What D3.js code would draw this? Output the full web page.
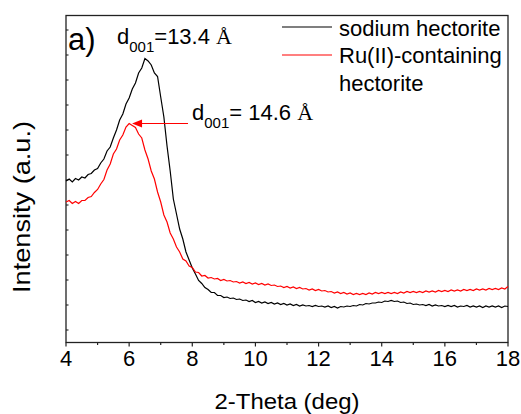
<!DOCTYPE html>
<html>
<head>
<meta charset="utf-8">
<script src="https://cdn.jsdelivr.net/npm/d3@7"></script>
<style>
  html, body { margin: 0; padding: 0; background: #fff; }
  svg { display: block; }
  text { font-family: "Liberation Sans", Arial, sans-serif; fill: #000; }
</style>
</head>
<body>
<svg id="chart" width="521" height="414"></svg>
<script>
// ---- data ----
const twoTheta = [
  4.0,4.1,4.2,4.3,4.4,4.5,4.6,4.7,4.8,4.9,5.0,5.1,5.2,5.3,5.4,5.5,5.6,5.7,5.8,5.9,
  6.0,6.1,6.2,6.3,6.4,6.5,6.6,6.7,6.8,6.9,7.0,7.1,7.2,7.3,7.4,7.5,7.6,7.7,7.8,7.9,
  8.0,8.1,8.2,8.3,8.4,8.5,8.6,8.7,8.8,8.9,9.0,9.1,9.2,9.3,9.4,9.5,9.6,9.7,9.8,9.9,
  10.0,10.1,10.2,10.3,10.4,10.5,10.6,10.7,10.8,10.9,11.0,11.1,11.2,11.3,11.4,11.5,11.6,11.7,11.8,11.9,
  12.0,12.1,12.2,12.3,12.4,12.5,12.6,12.7,12.8,12.9,13.0,13.1,13.2,13.3,13.4,13.5,13.6,13.7,13.8,13.9,
  14.0,14.1,14.2,14.3,14.4,14.5,14.6,14.7,14.8,14.9,15.0,15.1,15.2,15.3,15.4,15.5,15.6,15.7,15.8,15.9,
  16.0,16.1,16.2,16.3,16.4,16.5,16.6,16.7,16.8,16.9,17.0,17.1,17.2,17.3,17.4,17.5,17.6,17.7,17.8,17.9,
  18.0];
const naIntensity = [
  596,604,592,606,600,612,608,622,626,640,646,668,684,716,732,768,800,840,864,904,
  928,964,988,1028,1048,1086,1076,1060,1028,1014,932,852,736,636,524,464,404,364,312,280,
  248,224,198,186,170,162,150,150,138,138,130,132,126,128,122,124,118,120,114,118,
  110,114,108,112,106,110,104,108,102,106,100,104,98,102,96,100,96,98,94,98,
  94,96,92,96,90,94,88,94,92,96,94,98,96,102,100,106,104,108,108,112,
  110,116,114,118,114,116,110,112,106,108,102,104,100,102,98,102,96,100,96,98,
  94,98,94,98,92,96,94,98,92,96,92,96,90,96,92,96,92,96,90,96,
  94];
const ruIntensity = [
  512,518,506,514,506,518,518,530,534,550,562,584,602,640,664,704,724,760,780,812,
  826,818,810,784,768,720,684,636,604,552,512,460,432,388,364,332,312,284,276,256,
  250,232,230,216,218,208,210,204,206,198,202,196,198,192,194,188,192,186,190,184,
  188,182,186,180,184,178,180,174,176,170,174,168,172,166,170,164,166,160,164,158,
  162,156,158,152,154,148,152,146,150,144,148,142,146,142,146,142,148,144,150,146,
  150,146,150,146,150,146,152,148,154,150,154,150,154,150,156,152,156,152,158,154,
  158,154,160,156,160,156,162,158,162,158,164,160,164,160,166,162,166,162,168,164,
  174];

const xTickValues = [4, 6, 8, 10, 12, 14, 16, 18];
const xMinorValues = [5, 7, 9, 11, 13, 15, 17];
const yMinorValues = [0,100,200,300,400,500,600,700,800,900,1000,1100,1200];

const seriesNames = ["sodium hectorite", "Ru(II)-containing", "hectorite"];
const xTitle = "2-Theta (deg)";
const yTitle = "Intensity (a.u.)";
const panelLabel = "a)";
const peakNa = ["d", "001", "=13.4 ", "\u00C5"];
const peakRu = ["d", "001", "= 14.6 ", "\u00C5"];
const peakRuPos = [6.03, 826];

// ---- layout ----
const svg = d3.select("#chart");
const L = 66, R = 508, T = 15.5, B = 342.5;
const x = d3.scaleLinear().domain([4, 18]).range([L, R]);
const y = d3.scaleLinear().domain([-50, 1258]).range([B, T]);

// frame
svg.append("rect").attr("x", L).attr("y", T).attr("width", R - L).attr("height", B - T)
  .attr("fill", "none").attr("stroke", "#222").attr("stroke-width", 1.3);

// x axis ticks (outward)
const xAxis = svg.append("g").attr("transform", `translate(0,${B})`);
xAxis.selectAll("line.maj").data(xTickValues).join("line")
  .attr("x1", d => x(d)).attr("x2", d => x(d)).attr("y1", 0).attr("y2", 4)
  .attr("stroke", "#222").attr("stroke-width", 1.2);
xAxis.selectAll("line.min").data(xMinorValues).join("line")
  .attr("x1", d => x(d)).attr("x2", d => x(d)).attr("y1", 0).attr("y2", 2.5)
  .attr("stroke", "#222").attr("stroke-width", 1.2);
xAxis.selectAll("text").data(xTickValues).join("text")
  .attr("x", d => x(d)).attr("y", 23).attr("text-anchor", "middle")
  .attr("font-size", 22).text(d => d);

// y minor ticks (inward)
svg.append("g").selectAll("line").data(yMinorValues).join("line")
  .attr("x1", L).attr("x2", L + 2.5).attr("y1", d => y(d)).attr("y2", d => y(d))
  .attr("stroke", "#222").attr("stroke-width", 1.1);

// titles
svg.append("text").attr("x", 287).attr("y", 409).attr("text-anchor", "middle")
  .attr("font-size", 22).attr("textLength", 145).attr("lengthAdjust", "spacingAndGlyphs").text(xTitle);
svg.append("text").attr("transform", "translate(30,207) rotate(-90)").attr("text-anchor", "middle")
  .attr("font-size", 24).attr("textLength", 172).attr("lengthAdjust", "spacingAndGlyphs").text(yTitle);

// curves
const line = d3.line().x(d => x(d[0])).y(d => y(d[1]));
svg.append("path").datum(twoTheta.map((t, i) => [t, naIntensity[i]]))
  .attr("d", line).attr("fill", "none").attr("stroke", "#000").attr("stroke-width", 1.2);
svg.append("path").datum(twoTheta.map((t, i) => [t, ruIntensity[i]]))
  .attr("d", line).attr("fill", "none").attr("stroke", "#ff0000").attr("stroke-width", 1.2);

// panel label
svg.append("text").attr("x", 68).attr("y", 50).attr("font-size", 31).text(panelLabel);

// annotation helper
function dLabel(px, py, parts) {
  const t = svg.append("text").attr("x", px).attr("y", py).attr("font-size", 22);
  t.append("tspan").text(parts[0]);
  t.append("tspan").attr("font-size", 15).attr("dy", 8).text(parts[1]);
  t.append("tspan").attr("dy", -8).text(parts[2]);
  t.append("tspan").attr("font-family", "'Liberation Serif', 'Times New Roman', serif").text(parts[3]);
}
dLabel(117, 44, peakNa);
dLabel(192, 120, peakRu);

// arrow to Ru peak
const ax = x(peakRuPos[0]) + 2, ay = y(peakRuPos[1]);
svg.append("line").attr("x1", 188).attr("x2", ax + 8).attr("y1", ay).attr("y2", ay)
  .attr("stroke", "#ff0000").attr("stroke-width", 1.2);
svg.append("path").attr("d", `M${ax},${ay} L${ax + 10},${ay - 4} L${ax + 10},${ay + 4} Z`)
  .attr("fill", "#ff0000");

// legend
const lg = svg.append("g");
lg.append("line").attr("x1", 282).attr("x2", 332).attr("y1", 27).attr("y2", 27).attr("stroke", "#000").attr("stroke-width", 1.2);
lg.append("line").attr("x1", 282).attr("x2", 332).attr("y1", 55).attr("y2", 55).attr("stroke", "#ff0000").attr("stroke-width", 1.2);
lg.append("text").attr("x", 339).attr("y", 36).attr("font-size", 22).text(seriesNames[0]);
lg.append("text").attr("x", 339).attr("y", 63).attr("font-size", 22).text(seriesNames[1]);
lg.append("text").attr("x", 339).attr("y", 91).attr("font-size", 22).text(seriesNames[2]);
</script>
</body>
</html>
